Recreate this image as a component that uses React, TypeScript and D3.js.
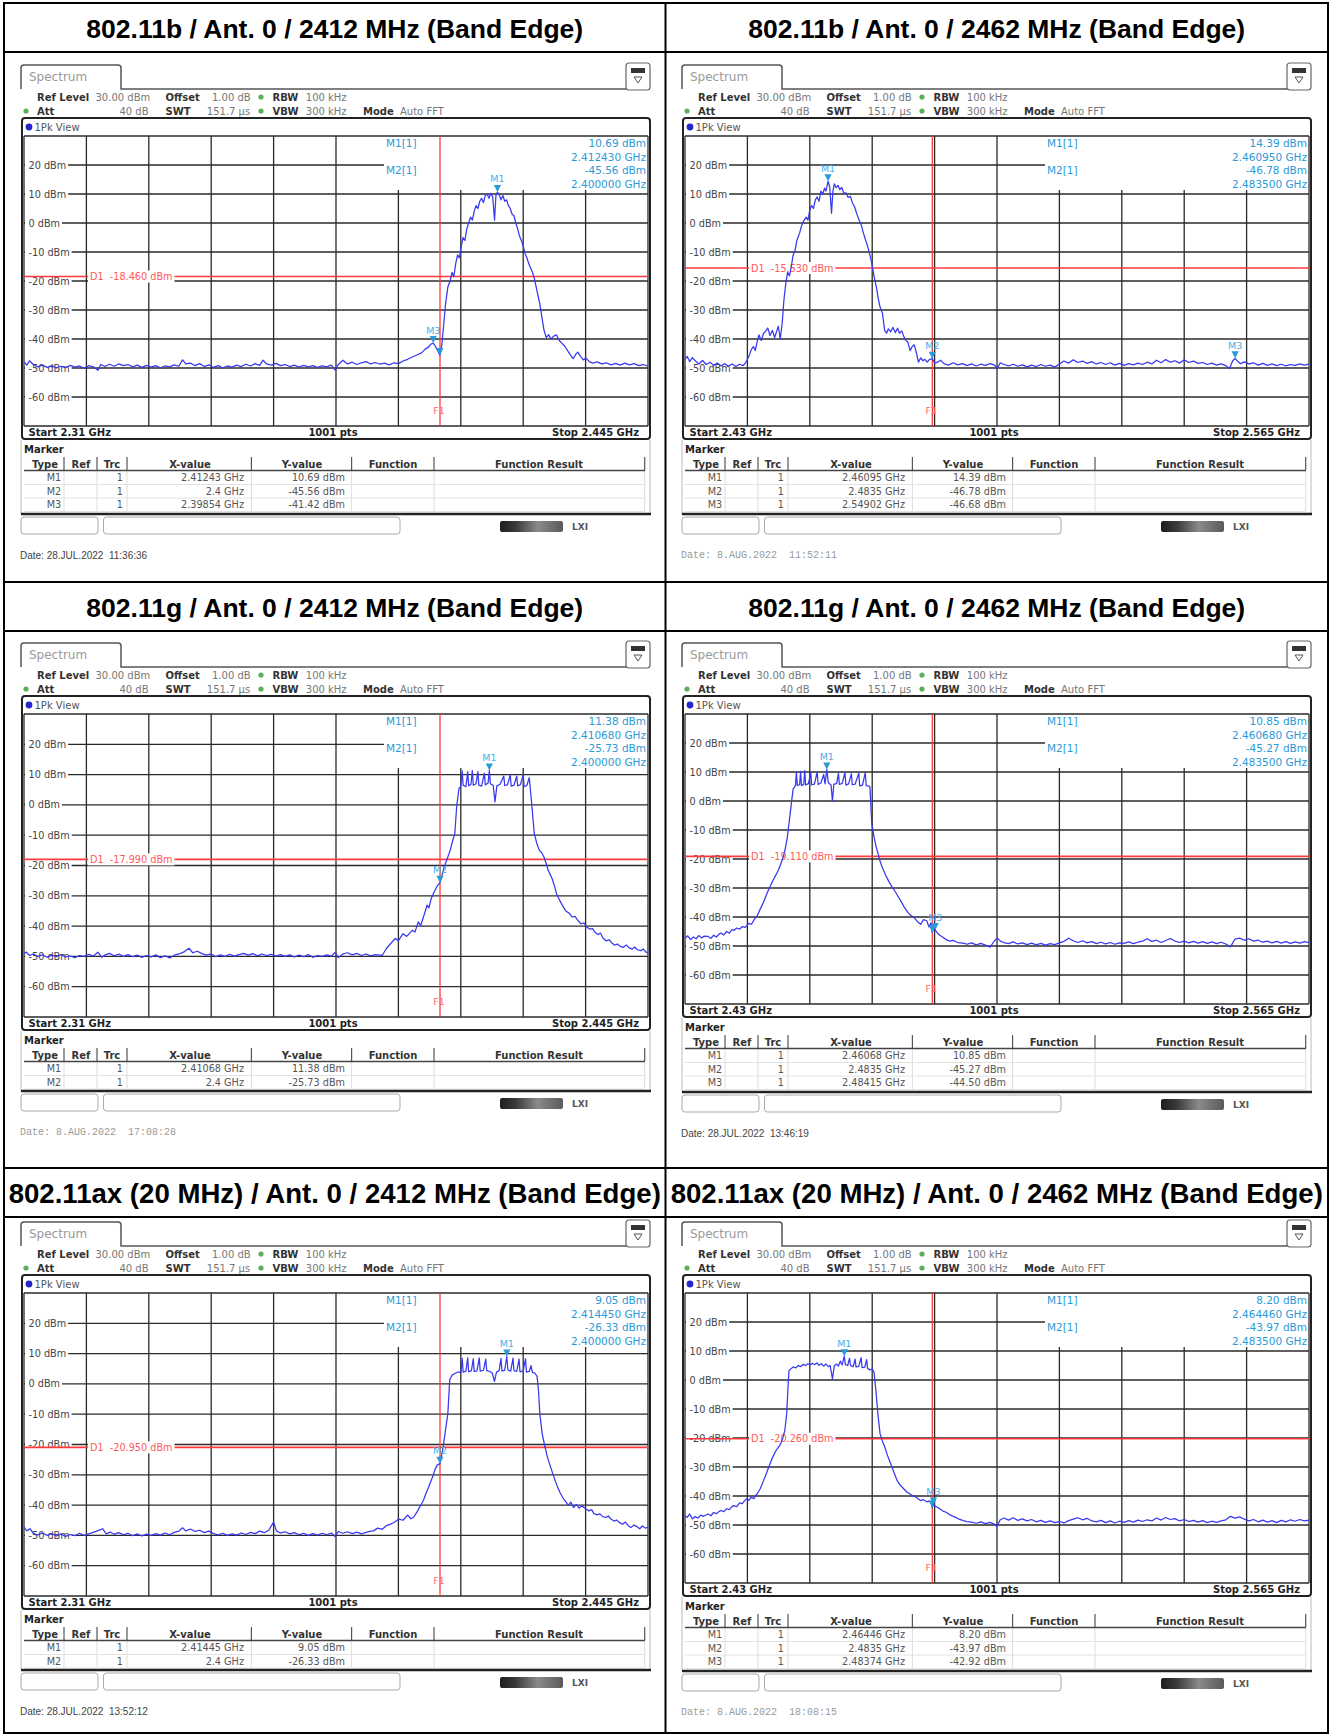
"use client"

import { useEffect, useRef } from "react"
import * as d3 from "d3"

type Pt = [number, number]

interface MarkerData {
  id: string
  f: number
  v: number
  label: boolean
}

const W = 1332
const H = 1735

const titles = [
  "802.11b / Ant. 0 / 2412 MHz (Band Edge)",
  "802.11b / Ant. 0 / 2462 MHz (Band Edge)",
  "802.11g / Ant. 0 / 2412 MHz (Band Edge)",
  "802.11g / Ant. 0 / 2462 MHz (Band Edge)",
  "802.11ax (20 MHz) / Ant. 0 / 2412 MHz (Band Edge)",
  "802.11ax (20 MHz) / Ant. 0 / 2462 MHz (Band Edge)",
]

const spansMHz: Pt[] = [[2310, 2445], [2430, 2565], [2310, 2445], [2430, 2565], [2310, 2445], [2430, 2565]]
const d1Levels = [-18.46, -15.53, -17.99, -19.11, -20.95, -20.26]
const f1MHz = [2400, 2483.5, 2400, 2483.5, 2400, 2483.5]
const yTicks = [30, 20, 10, 0, -10, -20, -30, -40, -50, -60, -70]

const dates = [
  "Date: 28.JUL.2022  11:36:36",
  "Date: 8.AUG.2022  11:52:11",
  "Date: 8.AUG.2022  17:08:28",
  "Date: 28.JUL.2022  13:46:19",
  "Date: 28.JUL.2022  13:52:12",
  "Date: 8.AUG.2022  18:08:15",
]
const monoDate = [false, true, true, false, false, true]

const markers11b2412: MarkerData[] = [
  { id: "M1", f: 2412.43, v: 10.69, label: true },
  { id: "M2", f: 2400, v: -45.56, label: false },
  { id: "M3", f: 2398.54, v: -41.42, label: true },
]
const markers11b2462: MarkerData[] = [
  { id: "M1", f: 2460.95, v: 14.39, label: true },
  { id: "M2", f: 2483.5, v: -46.78, label: true },
  { id: "M3", f: 2549.02, v: -46.68, label: true },
]
const markers11g2412: MarkerData[] = [
  { id: "M1", f: 2410.68, v: 11.38, label: true },
  { id: "M2", f: 2400, v: -25.73, label: true },
]
const markers11g2462: MarkerData[] = [
  { id: "M1", f: 2460.68, v: 10.85, label: true },
  { id: "M2", f: 2483.5, v: -45.27, label: false },
  { id: "M3", f: 2484.15, v: -44.5, label: true },
]
const markers11ax2412: MarkerData[] = [
  { id: "M1", f: 2414.45, v: 9.05, label: true },
  { id: "M2", f: 2400, v: -26.33, label: true },
]
const markers11ax2462: MarkerData[] = [
  { id: "M1", f: 2464.46, v: 8.2, label: true },
  { id: "M2", f: 2483.5, v: -43.97, label: false },
  { id: "M3", f: 2483.74, v: -42.92, label: true },
]

// traces: [MHz, dBm]
const trace11b2412: Pt[] = [
  [2310, -47.8], [2310.6, -49], [2311.2, -47.5], [2312, -48.8], [2313, -49.6], [2314, -49], [2315, -49.8], [2316, -49.2],
  [2317, -50], [2318, -49.4], [2319, -49.9], [2320, -49.1], [2321, -49.7], [2322, -49.3], [2323, -50.1], [2324, -49.2],
  [2325, -49.6], [2326, -50.8], [2326.6, -48.8], [2327.5, -49.5], [2328.5, -48.7], [2329.5, -49.4], [2330.5, -48.6],
  [2331.5, -49.2], [2332.5, -48.8], [2333.5, -49.6], [2334.5, -49], [2335.5, -49.8], [2336.5, -49.1], [2337.5, -49.7],
  [2338.5, -49.2], [2339.5, -49.9], [2340.5, -49.3], [2341.5, -49.6], [2342.5, -48.9], [2343.5, -49.4], [2344.3, -47.2],
  [2345, -48.6], [2346, -48.3], [2347, -49.2], [2348, -48.5], [2349, -49.5], [2350, -48.9], [2351, -49.8], [2352, -49.2],
  [2353, -49.9], [2354, -49.3], [2355, -49.7], [2356, -49], [2357, -49.5], [2358, -48.7], [2359, -49.3], [2360, -48.5],
  [2361, -49.1], [2361.7, -47.3], [2362.5, -48.6], [2363.5, -49], [2364.5, -48.4], [2365.5, -49.2], [2366.5, -48.8],
  [2367.5, -49.5], [2368.5, -49], [2369.5, -49.7], [2370.5, -49.1], [2371.5, -49.6], [2372.5, -49.2], [2373.5, -49.8],
  [2374.5, -49.3], [2375.5, -49.6], [2376.5, -49], [2377.3, -50.7], [2378, -48.8], [2379, -47.3], [2380, -48.6],
  [2381, -48], [2382, -48.8], [2383, -48.2], [2384, -47.8], [2385, -48.6], [2386, -48.1], [2387, -48.7], [2388, -48.3],
  [2389, -48.9], [2390, -48.2], [2391, -48.5], [2392, -47.6], [2393, -47], [2394, -46.2], [2395, -45.5], [2396, -44.8],
  [2396.8, -43.5], [2397.5, -42.8], [2398, -41.8], [2398.54, -41.42], [2399, -42.5], [2399.5, -44], [2400, -45.56],
  [2400.4, -42], [2400.8, -35], [2401.2, -28], [2401.7, -22], [2402.2, -20], [2402.6, -17], [2403, -18.5], [2403.4, -14],
  [2403.8, -11], [2404.2, -12], [2404.6, -8], [2405, -5], [2405.4, -6], [2405.8, -2], [2406.2, 0], [2406.6, 2], [2407, 1],
  [2407.4, 4], [2407.8, 6], [2408.2, 5], [2408.6, 7.5], [2409, 8.5], [2409.4, 7], [2409.8, 9.5], [2410.2, 10], [2410.6, 8.5],
  [2411, 10.2], [2411.4, 9], [2411.8, 1], [2412.1, 9.5], [2412.43, 10.69], [2412.8, 9.8], [2413.2, 8], [2413.6, 9.5],
  [2414, 7.5], [2414.4, 8], [2414.8, 6], [2415.2, 5], [2415.6, 3], [2416, 2.5], [2416.4, 0], [2416.8, -2], [2417.2, -4.5],
  [2417.6, -6], [2418, -8], [2418.4, -10.5], [2418.8, -12], [2419.2, -14], [2419.6, -15.5], [2420, -17], [2420.4, -19],
  [2420.8, -22], [2421.2, -25], [2421.6, -28], [2422, -32], [2422.5, -37], [2423, -39.5], [2423.5, -38.5], [2424, -40],
  [2424.6, -39], [2425.2, -38.6], [2425.8, -40.5], [2426.4, -41.5], [2427, -42.5], [2427.6, -44], [2428.2, -45.5],
  [2428.8, -46.8], [2429.4, -45.2], [2429.8, -44.5], [2430.4, -46], [2431, -47.2], [2431.6, -46.6], [2432.3, -47.8],
  [2433, -48.3], [2434, -47.9], [2435, -48.6], [2436, -48.2], [2437, -48.9], [2438, -48.4], [2439, -49], [2440, -48.3],
  [2441, -48.9], [2442, -48.5], [2443, -49.2], [2444, -48.8], [2445, -49.4],
]

const trace11b2462: Pt[] = [
  [2430, -47], [2430.5, -46], [2431, -47.8], [2431.6, -46.4], [2432.2, -47.5], [2433, -48.6], [2433.8, -47.4],
  [2434.6, -48.8], [2435.4, -48], [2436.2, -49.1], [2437, -48.3], [2437.8, -49.3], [2438.6, -48.5], [2439.4, -49.4],
  [2440.2, -48.6], [2441, -49.5], [2441.8, -48.7], [2442.6, -49.2], [2443.2, -48], [2443.8, -46], [2444.4, -43.5],
  [2444.8, -42.6], [2445.2, -44], [2445.6, -41], [2446, -38.6], [2446.5, -40.5], [2447, -38], [2447.5, -37.2],
  [2447.9, -36.2], [2448.4, -38.8], [2448.9, -37], [2449.4, -39.5], [2449.8, -37.5], [2450.2, -35.6], [2450.6, -40],
  [2451, -35], [2451.4, -26.6], [2451.8, -21], [2452.2, -17], [2452.6, -18.2], [2453, -15], [2453.4, -11], [2453.8, -9.5],
  [2454.2, -6], [2454.8, -3.5], [2455.2, -1], [2455.6, 0.5], [2456.2, 2], [2456.6, 1], [2457, 4.5], [2457.4, 6],
  [2457.8, 5], [2458.2, 8], [2458.6, 9], [2459, 7.5], [2459.4, 11], [2459.8, 10], [2460.2, 12], [2460.5, 11],
  [2460.95, 14.39], [2461.3, 12.5], [2461.7, 3.4], [2462, 11], [2462.3, 13.5], [2462.7, 12.2], [2463.1, 13],
  [2463.5, 11.5], [2463.9, 12.3], [2464.3, 10.5], [2464.9, 10.3], [2465.3, 8.8], [2465.8, 9.2], [2466.2, 7],
  [2466.7, 5.5], [2467.2, 3], [2467.7, 0.9], [2468.2, -1], [2468.6, -3.5], [2469, -5.5], [2469.5, -8], [2470, -11],
  [2470.4, -13.8], [2470.9, -18.4], [2471.4, -22], [2471.8, -26], [2472.2, -29], [2472.7, -31], [2473.2, -37],
  [2473.6, -38], [2474, -36.5], [2474.5, -37.5], [2475, -36], [2475.5, -37.8], [2476, -36.3], [2476.4, -38],
  [2476.9, -37.2], [2477.3, -39], [2477.8, -40.5], [2478.2, -41], [2478.7, -44], [2479.2, -42.5], [2479.6, -42],
  [2480.1, -45], [2480.5, -48], [2481, -46.5], [2481.5, -47.5], [2481.9, -47], [2482.4, -48], [2482.9, -47],
  [2483.5, -46.78], [2484, -48.3], [2484.6, -48], [2485.3, -47.3], [2486, -48.5], [2487, -49], [2488, -48.2],
  [2489, -48.9], [2490, -48.5], [2491, -49.2], [2492, -48.6], [2493, -49.3], [2494, -48.7], [2495, -49.1], [2496, -48.5],
  [2497, -49], [2497.5, -50.3], [2498.2, -48.2], [2499, -48.8], [2500, -49.3], [2501, -48.7], [2502, -49.4], [2503, -48.9],
  [2504, -49.6], [2505, -49], [2506, -49.5], [2507, -48.8], [2508, -49.4], [2509, -49], [2510, -49.7], [2511, -48.6],
  [2512, -47.6], [2513, -48.3], [2514, -47.2], [2515, -48.1], [2516, -47.6], [2517, -48.4], [2518, -47.8], [2519, -48.6],
  [2520, -48.1], [2521, -48.8], [2522, -48.2], [2523, -49], [2524, -48.4], [2525, -49.1], [2526, -48.5], [2527, -48.9],
  [2528, -48.3], [2529, -48.8], [2530, -48], [2531, -48.6], [2532, -47.3], [2533, -48.2], [2534, -47.1], [2535, -48],
  [2536, -47.5], [2537, -48.3], [2538, -47.2], [2539, -48.1], [2540, -47.6], [2541, -48.4], [2542, -48.1], [2543, -48.8],
  [2544, -48.3], [2545, -49], [2546, -48.6], [2547, -49.2], [2547.8, -50.2], [2548.5, -47.5], [2549.02, -46.68],
  [2549.6, -47.8], [2550.2, -48.5], [2551, -47.9], [2552, -48.6], [2553, -48.2], [2554, -49], [2555, -48.4], [2556, -49.1],
  [2557, -48.6], [2558, -49.2], [2559, -48.7], [2560, -49.3], [2561, -48.8], [2562, -49.1], [2563, -48.6], [2564, -49],
  [2565, -48.7],
]

const trace11g2412: Pt[] = [
  [2310, -49], [2310.5, -48.6], [2311.2, -49.7], [2312, -49.2], [2313, -50], [2314, -49.5], [2315, -50.3], [2316, -49.6],
  [2317, -50.1], [2318, -49.4], [2319, -50.2], [2320, -49.8], [2321, -50.4], [2322, -49.7], [2323, -50], [2324, -49.3],
  [2325, -49.9], [2326, -48.6], [2326.8, -50.3], [2327.6, -49.5], [2328.5, -49], [2329.5, -49.8], [2330.5, -49.2],
  [2331.5, -50], [2332.5, -49.4], [2333.5, -50.1], [2334.5, -49.6], [2335.5, -50.3], [2336.5, -49.7], [2337.5, -50.2],
  [2338.5, -49.5], [2339.5, -50.4], [2340.5, -49.8], [2341.5, -50.5], [2342.5, -49.6], [2343.5, -49.2], [2344.5, -48.6],
  [2345.7, -47.3], [2346.5, -48.8], [2347.5, -48.3], [2348.5, -49.1], [2349.5, -49.6], [2350.5, -49.2], [2351.5, -50.1],
  [2352.5, -49.5], [2353.5, -50], [2354.5, -49.3], [2355.5, -49.9], [2356.5, -49.4], [2357.5, -49], [2358.5, -49.6],
  [2359.5, -49.1], [2360.5, -49.8], [2361.5, -49.2], [2362.5, -49.7], [2363.5, -49.3], [2364.5, -49.9], [2365.5, -49.4],
  [2366.5, -50], [2367.5, -49.5], [2368.5, -50.2], [2369.5, -49.6], [2370.5, -50.1], [2371.5, -49.4], [2372.5, -50.3],
  [2373.5, -49.7], [2374.5, -50], [2375.5, -49.5], [2376.5, -49.9], [2377.3, -48.7], [2378, -50.4], [2379, -49.2],
  [2380, -48.8], [2381, -49.5], [2382, -49], [2383, -49.7], [2384, -49.2], [2385, -49.8], [2386, -49.4], [2387.5, -49.7],
  [2388.4, -47.4], [2389.2, -46], [2390.3, -44.1], [2391, -44.8], [2392, -42.5], [2392.8, -43.4], [2394, -41.4],
  [2394.6, -41.9], [2395.3, -38.6], [2395.8, -39.8], [2396.3, -37.6], [2397.2, -33.1], [2397.6, -34], [2398.1, -30.9],
  [2398.8, -28.5], [2399.5, -26.5], [2400, -25.73], [2400.9, -20.5], [2401.5, -18], [2402.2, -15], [2402.8, -11.5],
  [2403.2, -9.5], [2403.6, -0.7], [2404.1, 5.4], [2404.5, 6.2], [2404.8, 11.2], [2405, 6.5], [2405.6, 6], [2406, 11],
  [2406.2, 6.3], [2406.7, 6.8], [2407, 11.3], [2407.2, 6.5], [2407.8, 7], [2408.2, 11], [2408.4, 6.5], [2409, 6.2],
  [2409.6, 10.5], [2409.8, 6.6], [2410.4, 7.2], [2410.68, 11.38], [2410.9, 7], [2411.5, 6.5], [2411.9, 1], [2412.3, 6.3],
  [2413, 6.8], [2413.8, 9.5], [2414, 6.4], [2414.6, 6.6], [2415.2, 9.8], [2415.4, 6.2], [2416, 6.5], [2416.6, 9.5],
  [2416.8, 6.3], [2417.4, 6.7], [2418, 10], [2418.2, 6], [2418.8, 6.4], [2419.3, 9], [2419.5, 6], [2419.9, -0.7],
  [2420.4, -9.5], [2421, -13], [2421.5, -15], [2422, -15.8], [2422.5, -17.2], [2423, -19.5], [2423.4, -21.6],
  [2424.3, -24.5], [2424.8, -27], [2425.2, -29.3], [2425.9, -31.5], [2426.6, -33.5], [2427.2, -35], [2428, -35.8],
  [2428.6, -37], [2429.2, -36.8], [2429.8, -38], [2430.5, -39.3], [2431.1, -38.9], [2431.7, -40.2], [2432.4, -41],
  [2433, -40.8], [2433.5, -42], [2434.2, -42.8], [2434.7, -42.3], [2435.3, -44], [2436, -44.9], [2436.6, -44.5],
  [2437.2, -45.6], [2437.8, -46.3], [2438.4, -45.9], [2439, -46.7], [2439.7, -47], [2440.3, -46.2], [2440.9, -47.2],
  [2441.6, -47.6], [2442.1, -46.9], [2442.7, -47.8], [2443.4, -48.1], [2444, -47.6], [2444.5, -48.5], [2445, -48.9],
]

const trace11g2462: Pt[] = [
  [2430, -47.3], [2430.6, -46.5], [2431.2, -47.8], [2431.8, -46.9], [2432.4, -47.5], [2433, -46.4], [2433.6, -47.2],
  [2434.2, -46.6], [2435, -46.7], [2435.6, -47.4], [2436.2, -46.3], [2436.8, -46.9], [2437.4, -45.8], [2437.8, -45.5],
  [2438.4, -46.2], [2439, -45], [2439.6, -45.6], [2440.2, -44.3], [2440.6, -44.6], [2441.2, -43.8], [2441.8, -44.2],
  [2442.4, -43.3], [2443, -43.6], [2443.3, -43.1], [2443.8, -42.2], [2444.4, -42.5], [2445, -40.8], [2445.6, -39.6],
  [2446.3, -37.2], [2447, -34.8], [2447.7, -32], [2448.4, -29.5], [2449, -27.5], [2449.7, -25.4], [2450.2, -23.8],
  [2450.7, -21.8], [2451.2, -19.5], [2451.6, -17.1], [2452.1, -13], [2452.5, -7.7], [2453, -1], [2453.4, 4.2],
  [2453.9, 5.3], [2454.1, 10], [2454.3, 5.4], [2454.8, 5.6], [2455, 10.2], [2455.2, 5.3], [2455.7, 5.8], [2455.9, 10.5],
  [2456.1, 5.5], [2456.7, 6], [2457.2, 9.8], [2457.4, 5.6], [2458, 5.8], [2458.6, 10], [2458.8, 5.7], [2459.4, 6.2],
  [2460, 9.2], [2460.3, 5.9], [2460.68, 10.85], [2461, 6.3], [2461.6, 5.5], [2461.9, 0], [2462.2, 5.8], [2462.8, 6],
  [2463.2, 9.5], [2463.4, 5.7], [2464, 6.1], [2464.6, 9.8], [2464.8, 5.5], [2465.4, 5.9], [2466, 9.4], [2466.2, 5.6],
  [2466.8, 5.8], [2467.6, 9.6], [2467.8, 5.2], [2468.4, 5.5], [2469, 9.8], [2469.2, 5.3], [2469.8, 5.1], [2470, 5],
  [2470.4, -7.7], [2470.9, -12.4], [2471.3, -15.5], [2471.8, -18.3], [2472.2, -20.8], [2472.7, -23], [2473.4, -25.5],
  [2474.1, -27.8], [2474.8, -29.6], [2475.5, -31.3], [2476.2, -33.2], [2476.8, -34.8], [2477.5, -36.8], [2478.2, -38.4],
  [2478.9, -39.5], [2479.6, -40.2], [2480.3, -41.6], [2481, -42.5], [2481.6, -40.9], [2482.3, -41.3], [2482.8, -43.5],
  [2483.2, -42], [2483.5, -45.27], [2483.8, -43.5], [2484.15, -44.5], [2484.6, -45.5], [2485.2, -46.4], [2485.8, -47],
  [2486.5, -47.8], [2487.3, -48.3], [2488.1, -48.1], [2489, -48.8], [2490.2, -49], [2491, -49.4], [2492, -48.9],
  [2493, -49.6], [2494, -49.1], [2495, -49.7], [2496, -50.4], [2497, -48.1], [2497.6, -47.3], [2498.3, -48.4],
  [2499, -48.8], [2500, -49.2], [2501, -48.6], [2502, -49.3], [2503, -48.9], [2504, -49.5], [2505, -49], [2506, -49.6],
  [2507, -49.1], [2508, -49.7], [2509, -49.2], [2510, -49.5], [2511, -48.9], [2512, -48.4], [2513, -47.3], [2514, -48.2],
  [2515, -48.8], [2516, -48.2], [2517, -48.9], [2518, -48.5], [2519, -49.2], [2520, -48.7], [2521, -49.3], [2522, -48.8],
  [2523, -49.4], [2524, -48.9], [2525, -49.1], [2526, -48.6], [2527, -49.2], [2528, -48.7], [2529, -48.3], [2530, -47.5],
  [2531, -48.4], [2532, -48], [2533, -48.8], [2534, -48.1], [2535, -47.4], [2536, -48.3], [2537, -48.8], [2538, -48.3],
  [2539, -48.9], [2540, -48.4], [2541, -49], [2542, -48.5], [2543, -49.1], [2544, -48.6], [2545, -49.2], [2546, -48.7],
  [2547, -49.3], [2548, -50.3], [2549, -47.6], [2550, -47.3], [2551, -48], [2552, -47.5], [2553, -48.3], [2554, -48],
  [2555, -48.7], [2556, -48.3], [2557, -48.9], [2558, -48.4], [2559, -49], [2560, -48.5], [2561, -49.1], [2562, -48.6],
  [2563, -49], [2564, -48.5], [2565, -48.8],
]

const trace11ax2412: Pt[] = [
  [2310, -47.3], [2310.6, -48.5], [2311.3, -47.8], [2312, -49.3], [2313, -49.8], [2314, -49.2], [2315, -50], [2316, -49.4],
  [2317, -50.2], [2318, -49.6], [2319, -50.3], [2320, -49.7], [2321, -50.1], [2322, -49.3], [2323, -50], [2324, -49.5],
  [2325, -49], [2326, -48.4], [2327, -47.8], [2327.8, -49.5], [2328.6, -48.9], [2329.5, -49.6], [2330.5, -49.1],
  [2331.5, -49.8], [2332.5, -49.3], [2333.5, -50.1], [2334.5, -49.5], [2335.5, -50.2], [2336.5, -49.6], [2337.5, -50],
  [2338.5, -49.4], [2339.5, -49.9], [2340.5, -49.2], [2341.5, -49.8], [2342.5, -49], [2343.5, -48.6], [2344.3, -47.5],
  [2345, -48.5], [2346, -47.9], [2347, -48.7], [2348, -48.3], [2349, -49.1], [2350, -48.6], [2351, -49.4], [2352, -49.8],
  [2353, -49.3], [2354, -50], [2355, -49.5], [2356, -49.9], [2357, -49.2], [2358, -49.7], [2359, -49], [2360, -49.4],
  [2361, -48.6], [2362, -49.1], [2363, -48.2], [2364, -45.6], [2364.6, -48.5], [2365.5, -49.2], [2366.5, -48.8],
  [2367.5, -49.5], [2368.5, -49.1], [2369.5, -49.8], [2370.5, -49.3], [2371.5, -50], [2372.5, -49.4], [2373.5, -49.9],
  [2374.5, -49.3], [2375.5, -49.8], [2376.5, -49.2], [2377.3, -50.4], [2378, -48.7], [2379, -49.3], [2380, -48.8],
  [2381, -49.4], [2382, -48.9], [2383, -49.5], [2384, -49], [2385, -48.6], [2385.6, -48.5], [2386.5, -47.6], [2387.5, -48],
  [2388.4, -46.8], [2389.3, -46.3], [2390.2, -45.6], [2391.1, -44.6], [2392, -45], [2393, -43.3], [2393.7, -44.5],
  [2394.3, -44], [2395, -42.3], [2395.7, -40.4], [2396.4, -38.5], [2397, -36], [2397.5, -34.2], [2398, -32.2],
  [2398.5, -30.3], [2398.9, -28.3], [2399.4, -26.8], [2400, -26.33], [2400.7, -20.6], [2401.2, -15.2], [2401.7, -9.8],
  [2402.1, 1.3], [2402.6, 2.9], [2403.3, 3.5], [2404, 4], [2404.5, 3.6], [2404.8, 8.5], [2405, 3.9], [2405.6, 4.2],
  [2406, 8.6], [2406.2, 4], [2406.8, 4.4], [2407.2, 8.3], [2407.4, 4.1], [2408, 4.3], [2408.5, 8.6], [2408.7, 4.2],
  [2409.4, 4.5], [2409.9, 8.2], [2410.1, 4.4], [2410.8, 4.1], [2411.3, 3.6], [2411.8, 0.8], [2412.2, 3.8], [2412.8, 4.4],
  [2413.2, 8.4], [2413.4, 4.3], [2414, 4.5], [2414.45, 9.05], [2414.7, 4.6], [2415.3, 4.2], [2415.8, 8.5], [2416, 4.4],
  [2416.6, 4.1], [2417.1, 8.2], [2417.3, 4], [2418, 4.3], [2418.5, 8.3], [2418.7, 3.9], [2419.3, 4.1], [2419.7, 6],
  [2420, 3.7], [2420.5, 3.6], [2421, 2.5], [2421.3, -2], [2421.6, -9.8], [2422.1, -16.4], [2422.6, -20], [2423.2, -24],
  [2423.9, -27.3], [2424.6, -30.6], [2425.3, -33.5], [2426, -36], [2426.7, -37.9], [2427.4, -39.3], [2427.8, -40],
  [2428.3, -39], [2428.9, -40.8], [2429.5, -39.8], [2430.1, -41], [2430.7, -40.2], [2431.5, -41.2], [2432.2, -41.9],
  [2432.8, -41.5], [2433.3, -42.8], [2434, -43.2], [2434.6, -42.9], [2435.2, -43.8], [2435.9, -44.1], [2436.4, -43.6],
  [2437, -44.6], [2437.7, -45.3], [2438.2, -44.9], [2438.8, -45.7], [2439.5, -46.3], [2440.1, -45.6], [2440.7, -46.8],
  [2441.3, -47.4], [2441.9, -46.6], [2442.5, -47], [2443.2, -47.8], [2443.8, -46.9], [2444.4, -47.6], [2445, -47.3],
]

const trace11ax2462: Pt[] = [
  [2430, -46.7], [2430.5, -47.4], [2431, -46.2], [2431.6, -47.9], [2432.2, -47.1], [2432.8, -47.6], [2433.4, -46.6],
  [2434, -47], [2435, -46.2], [2435.6, -46.8], [2436.2, -45.7], [2436.8, -46.1], [2437.4, -45.3], [2437.8, -45],
  [2438.4, -45.4], [2439, -44.4], [2439.6, -44.7], [2440.2, -43.6], [2440.6, -43.3], [2441.2, -43.7], [2441.8, -42.4],
  [2442.4, -42.6], [2442.9, -41.6], [2443.3, -41], [2443.8, -41.5], [2444.3, -40.5], [2444.9, -40.9], [2445.3, -39.8],
  [2445.6, -39.3], [2446.3, -37.4], [2447, -34.7], [2447.7, -31.8], [2448.4, -28.9], [2449, -26.5], [2449.7, -24.3],
  [2450.2, -23.2], [2450.7, -22], [2451.2, -19.8], [2451.6, -17.4], [2452, -11.6], [2452.3, -2], [2452.5, 3.3], [2453, 4],
  [2453.4, 4.5], [2454, 4.2], [2454.5, 5], [2455, 4.6], [2455.6, 5.4], [2456.1, 5], [2456.6, 5.6], [2457.1, 5.2],
  [2457.6, 5.8], [2458, 5.3], [2458.5, 5.9], [2459, 5.1], [2459.5, 5.6], [2460, 4.8], [2460.5, 5.5], [2461, 4.6],
  [2461.4, 5], [2461.9, 0.4], [2462.3, 4.9], [2462.8, 5.5], [2463.2, 4.8], [2463.6, 6.5], [2464, 5.2], [2464.46, 8.2],
  [2464.7, 5.3], [2465.2, 5], [2465.6, 7.5], [2465.8, 5], [2466.4, 4.6], [2466.8, 7.2], [2467, 4.5], [2467.6, 4.7],
  [2468.1, 7.7], [2468.3, 4.3], [2468.9, 4.4], [2469.3, 7], [2469.5, 4], [2470, 3.5], [2470.5, 3.8], [2470.9, 2.7],
  [2471.3, -3.6], [2471.8, -12.8], [2472.2, -18.5], [2472.7, -21], [2473.2, -23], [2473.8, -26], [2474.5, -28.9],
  [2475.2, -31.8], [2475.9, -34.7], [2476.6, -36.3], [2477.3, -37.5], [2478, -38.6], [2478.7, -39.3], [2479.3, -39.9],
  [2480, -40.4], [2480.5, -41], [2481, -41.6], [2481.5, -41.2], [2482.3, -42], [2482.8, -41.7], [2483.3, -42.7],
  [2483.5, -43.97], [2483.74, -42.92], [2484.1, -43.5], [2484.6, -43.9], [2485.2, -44.5], [2485.8, -45.2], [2486.5, -45.6],
  [2487.2, -46.4], [2488, -47], [2488.5, -47.3], [2489.3, -48], [2490.2, -48.5], [2491, -48.8], [2492, -49], [2493, -49.4],
  [2494, -48.9], [2495, -49.5], [2496, -49.1], [2497, -49.8], [2497.5, -50.5], [2498.2, -48.2], [2499, -47.6],
  [2500, -48.3], [2501, -47.5], [2502, -48.4], [2503, -47.9], [2504, -48.6], [2505, -48.1], [2506, -48.9], [2507, -48.4],
  [2508, -49.1], [2509, -48.6], [2510, -49.2], [2511, -48.8], [2512, -49.3], [2513, -48.5], [2514, -48], [2515, -47.5],
  [2516, -48.2], [2517, -47.7], [2518, -48.6], [2519, -48.9], [2520, -48.4], [2521, -49.2], [2522, -48.6], [2523, -49.3],
  [2524, -48.7], [2525, -49.1], [2526, -48.5], [2527, -49], [2528, -48.3], [2529, -48.8], [2530, -48.2], [2531, -48.6],
  [2532, -47.6], [2533, -48.3], [2534, -47.4], [2535, -48.1], [2536, -47.8], [2537, -48.6], [2538, -48.1], [2539, -48.8],
  [2540, -48.4], [2541, -49], [2542, -48.5], [2543, -49.2], [2544, -48.7], [2545, -49.1], [2546, -48.6], [2547, -48.2],
  [2548, -47], [2549, -47.6], [2550, -47.2], [2551, -48], [2552, -48.6], [2553, -48.1], [2554, -48.9], [2555, -48.3],
  [2556, -49], [2557, -48.5], [2558, -49.2], [2559, -48.4], [2560, -48.9], [2561, -48.2], [2562, -48.7], [2563, -48.1],
  [2564, -48.6], [2565, -48.3],
]

const traces = [trace11b2412, trace11b2462, trace11g2412, trace11g2462, trace11ax2412, trace11ax2462]
const markerSets = [markers11b2412, markers11b2462, markers11g2412, markers11g2462, markers11ax2412, markers11ax2462]

// page layout
const rowLines = [3, 52, 582, 631, 1168, 1217, 1733]
const colLines = [4, 665.5, 1328]
const titleSizes = [26.5, 26.5, 26.5, 26.5, 27.6, 27.6]
const colLeft = [24, 685]
const plotW = 624
const plotTops = [136, 136, 714, 714, 1293, 1293]
const plotBottoms = [426, 426, 1017, 1004, 1596, 1583]

const uiFont = "'DejaVu Sans', sans-serif"
const traceColor = "#3838f0"
const markerColor = "#2a9ad8"
const redColor = "#ff3a3a"

type Sel = d3.Selection<SVGGElement, unknown, null, undefined>

function addText(g: Sel, x: number, y: number, s: string, size: number, fill: string, opts: { bold?: boolean, anchor?: string, family?: string } = {}) {
  return g.append("text")
    .attr("x", x)
    .attr("y", y)
    .attr("dominant-baseline", "central")
    .attr("text-anchor", opts.anchor || "start")
    .attr("font-family", opts.family || uiFont)
    .attr("font-size", size)
    .attr("font-weight", opts.bold ? "bold" : "normal")
    .attr("fill", fill)
    .style("white-space", "pre")
    .text(s)
}

function drawPanel(root: Sel, i: number) {
  const col = i % 2
  const L = colLeft[col]
  const T = plotTops[i]
  const B = plotBottoms[i]
  const [s0, s1] = spansMHz[i]
  const mk = markerSets[i]
  const x = d3.scaleLinear().domain([s0, s1]).range([L, L + plotW])
  const y = d3.scaleLinear().domain([30, -70]).range([T, B])
  const g = root.append("g")

  // tab and top icon
  g.append("path")
    .attr("d", `M${L - 3},${T - 47} V${T - 68} Q${L - 3},${T - 71} ${L},${T - 71} H${L + 94} Q${L + 97},${T - 71} ${L + 97},${T - 68} V${T - 47} H${L + 602}`)
    .attr("fill", "none").attr("stroke", "#555").attr("stroke-width", 1.5)
  addText(g, L + 5, T - 59, "Spectrum", 12, "#9a9a9a")
  g.append("rect").attr("x", L + 602).attr("y", T - 73).attr("width", 24).attr("height", 27).attr("rx", 3)
    .attr("fill", "#fff").attr("stroke", "#666").attr("stroke-width", 1.2)
  g.append("rect").attr("x", L + 607).attr("y", T - 68).attr("width", 14).attr("height", 5).attr("fill", "#333")
  g.append("path").attr("d", `M${L + 610},${T - 59} H${L + 618} L${L + 614},${T - 53} Z`)
    .attr("fill", "none").attr("stroke", "#555").attr("stroke-width", 1)

  // header settings
  const h1 = T - 39
  const h2 = T - 25
  addText(g, L + 13, h1, "Ref Level", 10, "#333", { bold: true })
  addText(g, L + 71.5, h1, "30.00 dBm", 10, "#777")
  addText(g, L + 141.6, h1, "Offset", 10, "#333", { bold: true })
  addText(g, L + 188, h1, "1.00 dB", 10, "#777")
  addText(g, L + 248.6, h1, "RBW", 10, "#333", { bold: true })
  addText(g, L + 281.8, h1, "100 kHz", 10, "#777")
  addText(g, L + 13, h2, "Att", 10, "#333", { bold: true })
  addText(g, L + 124.6, h2, "40 dB", 10, "#777", { anchor: "end" })
  addText(g, L + 141.6, h2, "SWT", 10, "#333", { bold: true })
  addText(g, L + 182.8, h2, "151.7 µs", 10, "#777")
  addText(g, L + 248.6, h2, "VBW", 10, "#333", { bold: true })
  addText(g, L + 281.8, h2, "300 kHz", 10, "#777")
  addText(g, L + 339, h2, "Mode", 10, "#333", { bold: true })
  addText(g, L + 376, h2, "Auto FFT", 10, "#777")
  ;[[L + 237, h1], [L + 2, h2], [L + 237, h2]].forEach(([cx, cy]) => {
    g.append("circle").attr("cx", cx).attr("cy", cy).attr("r", 2.6).attr("fill", "#5cae5c")
  })

  // view title
  g.append("circle").attr("cx", L + 5).attr("cy", T - 9).attr("r", 3.4).attr("fill", "#2626cc")
  addText(g, L + 10.5, T - 9, "1Pk View", 10, "#555")

  // grid
  const infoLeft = L + 360
  yTicks.forEach(v => {
    g.append("line")
      .attr("x1", L).attr("x2", v === 20 ? infoLeft : L + plotW)
      .attr("y1", y(v)).attr("y2", y(v))
      .attr("stroke", "#2a2a2a").attr("stroke-width", 1.3)
  })
  d3.range(0, 11).forEach(k => {
    const gx = L + (k * plotW) / 10
    g.append("line")
      .attr("x1", gx).attr("x2", gx)
      .attr("y1", gx > infoLeft && k < 10 ? T + 54 : T).attr("y2", B)
      .attr("stroke", "#2a2a2a").attr("stroke-width", 1.3)
  })

  // marker info block
  const m1 = mk[0]
  const m2 = mk[1]
  addText(g, L + 362, T + 7, "M1[1]", 10.5, markerColor)
  addText(g, L + 362, T + 34, "M2[1]", 10.5, markerColor)
  addText(g, L + 622, T + 7, `${m1.v.toFixed(2)} dBm`, 10.5, markerColor, { anchor: "end" })
  addText(g, L + 622, T + 20.5, `${(m1.f / 1000).toFixed(6)} GHz`, 10.5, markerColor, { anchor: "end" })
  addText(g, L + 622, T + 34, `${m2.v.toFixed(2)} dBm`, 10.5, markerColor, { anchor: "end" })
  addText(g, L + 622, T + 48, `${(m2.f / 1000).toFixed(6)} GHz`, 10.5, markerColor, { anchor: "end" })

  // level labels with white backing
  yTicks.filter(v => v < 30 && v > -70).forEach(v => {
    const bg = g.append("rect").attr("fill", "#fff")
    const t = addText(g, L + 4.5, y(v), `${v} dBm`, 9.7, "#444")
    const bb = (t.node() as SVGTextElement).getBBox()
    bg.attr("x", L + 1).attr("y", y(v) - 6).attr("width", bb.x + bb.width + 2 - (L + 1)).attr("height", 12)
  })

  // display line D1
  const d1 = d1Levels[i]
  g.append("line").attr("x1", L).attr("x2", L + plotW).attr("y1", y(d1)).attr("y2", y(d1))
    .attr("stroke", redColor).attr("stroke-width", 1.6)
  const d1bg = g.append("rect").attr("fill", "#fff")
  const d1t = addText(g, L + 66, y(d1), `D1  ${d1.toFixed(3)} dBm`, 9.7, "#ff5a5a")
  const d1bb = (d1t.node() as SVGTextElement).getBBox()
  d1bg.attr("x", d1bb.x - 2).attr("y", y(d1) - 6).attr("width", d1bb.width + 4).attr("height", 12)

  // frequency line F1
  const f1x = x(f1MHz[i])
  g.append("line").attr("x1", f1x).attr("x2", f1x).attr("y1", T).attr("y2", B)
    .attr("stroke", redColor).attr("stroke-width", 1.3)
  addText(g, f1x - 1, B - 16, "F1", 9.5, "#ff6b6b", { anchor: "middle" })

  // trace
  const line = d3.line<Pt>().x(d => x(d[0])).y(d => y(d[1]))
  g.append("path").attr("d", line(traces[i]) || "")
    .attr("fill", "none").attr("stroke", traceColor).attr("stroke-width", 1.25).attr("stroke-linejoin", "round")

  // markers
  mk.forEach(m => {
    const mx = x(m.f)
    const my = y(m.v)
    g.append("path").attr("d", `M${mx - 3.6},${my - 7} H${mx + 3.6} L${mx},${my} Z`).attr("fill", markerColor)
    if (m.label) addText(g, mx, my - 13, m.id, 9.5, "#45aee8", { anchor: "middle" })
  })

  // plot frame
  g.append("rect").attr("x", L - 2).attr("y", T - 18).attr("width", plotW + 4).attr("height", B + 13 - (T - 18)).attr("rx", 3)
    .attr("fill", "none").attr("stroke", "#222").attr("stroke-width", 2)
  addText(g, L + 4.5, B + 6.5, `Start ${+(s0 / 1000).toFixed(4)} GHz`, 10, "#222", { bold: true })
  addText(g, L + 309, B + 6.5, "1001 pts", 10, "#222", { bold: true, anchor: "middle" })
  addText(g, L + 615, B + 6.5, `Stop ${+(s1 / 1000).toFixed(4)} GHz`, 10, "#222", { bold: true, anchor: "end" })

  // marker table
  const fb = B + 46 + 14 * mk.length
  g.append("line").attr("x1", L - 3).attr("x2", L - 3).attr("y1", B + 14).attr("y2", fb).attr("stroke", "#bbb")
  g.append("line").attr("x1", L + 626).attr("x2", L + 626).attr("y1", B + 14).attr("y2", fb).attr("stroke", "#bbb")
  addText(g, L, B + 23, "Marker", 10, "#222", { bold: true })
  const seps = [40, 73, 103, 227.4, 327.6, 410, 620.7]
  seps.forEach(s => {
    g.append("line").attr("x1", L + s).attr("x2", L + s).attr("y1", B + 31).attr("y2", B + 44)
      .attr("stroke", "#555").attr("stroke-width", 1.2)
    g.append("line").attr("x1", L + s).attr("x2", L + s).attr("y1", B + 45).attr("y2", fb - 3)
      .attr("stroke", "#ddd").attr("stroke-width", 1)
  })
  g.append("line").attr("x1", L).attr("x2", L + 621).attr("y1", B + 44.5).attr("y2", B + 44.5)
    .attr("stroke", "#444").attr("stroke-width", 1.5)
  const heads: [number, string][] = [[21, "Type"], [57, "Ref"], [88, "Trc"], [166, "X-value"], [278, "Y-value"], [369, "Function"], [515, "Function Result"]]
  heads.forEach(([hx, s]) => addText(g, L + hx, B + 38, s, 10, "#333", { bold: true, anchor: "middle" }))
  mk.forEach((m, k) => {
    const ry = B + 51.5 + 13.5 * k
    g.append("line").attr("x1", L).attr("x2", L + 621).attr("y1", ry + 7).attr("y2", ry + 7)
      .attr("stroke", "#e2e2e2").attr("stroke-width", 1)
    addText(g, L + 30, ry, m.id, 9.7, "#555", { anchor: "middle" })
    addText(g, L + 99, ry, "1", 9.7, "#555", { anchor: "end" })
    addText(g, L + 220, ry, `${+(m.f / 1000).toFixed(5)} GHz`, 9.7, "#555", { anchor: "end" })
    addText(g, L + 321, ry, `${m.v.toFixed(2)} dBm`, 9.7, "#555", { anchor: "end" })
  })
  g.append("line").attr("x1", L - 3).attr("x2", L + 627).attr("y1", fb).attr("y2", fb)
    .attr("stroke", "#222").attr("stroke-width", 2.5)

  // status bar
  const sb = fb + 3
  g.append("rect").attr("x", L - 3).attr("y", sb).attr("width", 77).attr("height", 17).attr("rx", 3)
    .attr("fill", "#fff").attr("stroke", "#aaa")
  g.append("rect").attr("x", L + 79.5).attr("y", sb).attr("width", 296.5).attr("height", 17).attr("rx", 3)
    .attr("fill", "#fff").attr("stroke", "#aaa")
  g.append("rect").attr("x", L + 476).attr("y", sb + 4).attr("width", 63).attr("height", 11).attr("rx", 2)
    .attr("fill", "url(#barGrad)")
  addText(g, L + 548, sb + 9.5, "LXI", 9, "#555", { bold: true })

  // timestamp
  if (monoDate[i]) {
    addText(g, L - 4, fb + 41, dates[i], 10, "#9a9a9a", { family: "'Liberation Mono', monospace" })
  } else {
    addText(g, L - 4, fb + 41, dates[i], 10, "#444", { family: "'Liberation Sans', Arial, sans-serif" })
  }
}

export default function App() {
  const svgRef = useRef<SVGSVGElement>(null)

  useEffect(() => {
    if (!svgRef.current) return
    const svg = d3.select(svgRef.current)
    svg.selectAll("*").remove()

    const defs = svg.append("defs")
    const grad = defs.append("linearGradient").attr("id", "barGrad")
    grad.append("stop").attr("offset", "0%").attr("stop-color", "#1e1e1e")
    grad.append("stop").attr("offset", "25%").attr("stop-color", "#3a3a3a")
    grad.append("stop").attr("offset", "60%").attr("stop-color", "#8a8a8a")
    grad.append("stop").attr("offset", "100%").attr("stop-color", "#5a5a5a")

    const root = svg.append("g") as unknown as Sel
    root.append("rect").attr("width", W).attr("height", H).attr("fill", "#fff")

    // report table
    rowLines.forEach(ry => {
      root.append("line").attr("x1", colLines[0] - 1).attr("x2", colLines[2] + 1).attr("y1", ry).attr("y2", ry)
        .attr("stroke", "#000").attr("stroke-width", 2)
    })
    colLines.forEach(cx => {
      root.append("line").attr("x1", cx).attr("x2", cx).attr("y1", rowLines[0]).attr("y2", rowLines[6])
        .attr("stroke", "#000").attr("stroke-width", 2)
    })
    titles.forEach((t, i) => {
      const col = i % 2
      const row = Math.floor(i / 2)
      root.append("text")
        .attr("x", (colLines[col] + colLines[col + 1]) / 2)
        .attr("y", (rowLines[row * 2] + rowLines[row * 2 + 1]) / 2 + 1)
        .attr("dominant-baseline", "central")
        .attr("text-anchor", "middle")
        .attr("font-family", "'Liberation Sans', Arial, sans-serif")
        .attr("font-weight", "bold")
        .attr("font-size", titleSizes[i])
        .attr("fill", "#000")
        .text(t)
    })

    titles.forEach((_, i) => drawPanel(root, i))
  }, [])

  return (
    <svg
      ref={svgRef}
      width={W}
      height={H}
      style={{ position: "absolute", left: 0, top: 0, display: "block" }}
    />
  )
}
